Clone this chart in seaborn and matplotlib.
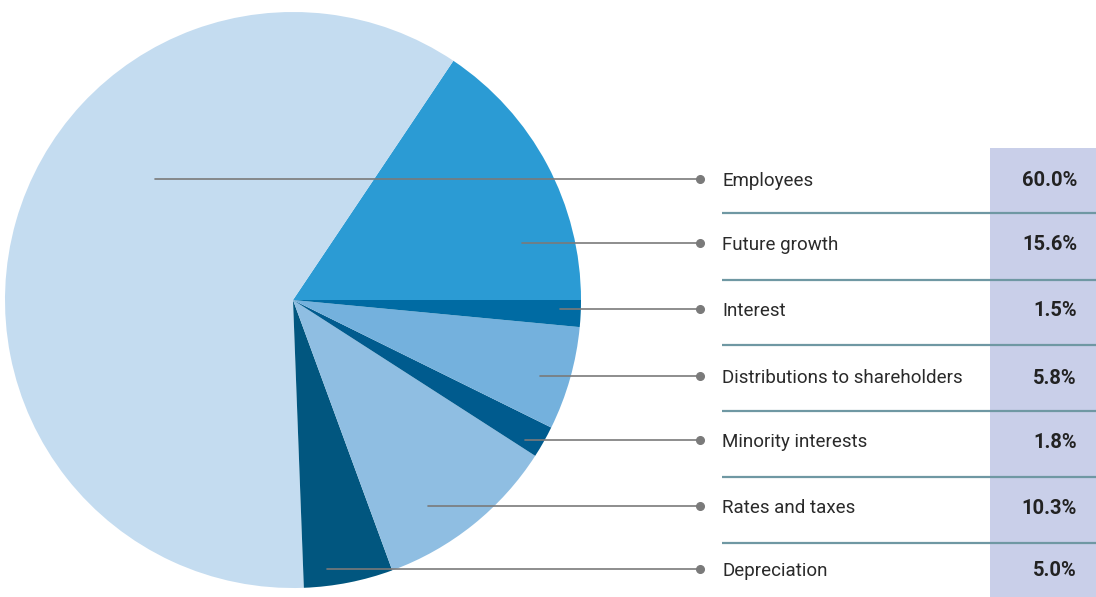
import matplotlib
matplotlib.use("Agg")
import matplotlib.pyplot as plt
from matplotlib import font_manager
from matplotlib.patches import Rectangle
import seaborn as sns

# Value distribution (percent of total)
categories = ["Employees", "Future growth", "Interest", "Distributions to shareholders",
              "Minority interests", "Rates and taxes", "Depreciation"]
shares = [60.0, 15.6, 1.5, 5.8, 1.8, 10.3, 5.0]
value_labels = ["60.0%", "15.6%", "1.5%", "5.8%", "1.8%", "10.3%", "5.0%"]

slice_colors = ["#c4dcf0", "#2b9bd4", "#006ba3", "#74b1dd", "#005b8e", "#8fbee2", "#01567f"]
# wedges are laid out counter-clockwise from 3 o'clock in this order
pie_order = [1, 0, 6, 5, 4, 3, 2]

sns.set_theme(style="white")

names = {f.name for f in font_manager.fontManager.ttflist}
base_font = "Liberation Sans Narrow" if "Liberation Sans Narrow" in names else "Roboto"
plt.rcParams["font.family"] = [base_font, "DejaVu Sans"]

W, H = 1096, 597
fig = plt.figure(figsize=(W / 100, H / 100), dpi=100)
ax = fig.add_axes([0, 0, 1, 1])

def py(y):
    # screen-style y (top = 0) to axis y
    return H - y

cx, cy, r = 293, py(300), 288
ax.pie([shares[i] for i in pie_order],
       colors=[slice_colors[i] for i in pie_order],
       startangle=0, counterclock=True,
       center=(cx, cy), radius=r,
       wedgeprops=dict(linewidth=0))

# table column background
ax.add_patch(Rectangle((990, 0), W - 990, py(148), facecolor="#c9cfe9",
                       edgecolor="none", zorder=1))

row_y = [181, 245, 311, 378, 442, 508, 571]
leader_start = [155, 522, 560, 540, 525, 428, 327]
sep_y = [213, 280, 345, 411, 477, 543]

label_size = 13.5 if base_font == "Roboto" else 14.5

for y in sep_y:
    ax.plot([722, W], [py(y), py(y)], color="#6f98a3", lw=1.6, zorder=2,
            solid_capstyle="butt")

for cat, lab, y, x0 in zip(categories, value_labels, row_y, leader_start):
    ax.plot([x0, 700], [py(y - 2), py(y - 2)], color="#7a7a7a", lw=1.2, zorder=3)
    ax.plot([700], [py(y - 2)], "o", color="#7a7a7a", ms=5.5, zorder=4)
    ax.text(722, py(y), cat, ha="left", va="center", fontsize=label_size,
            color="#2a2a2a", zorder=5)
    ax.text(1077, py(y), lab, ha="right", va="center", fontsize=14.5,
            fontweight="bold", color="#222222", zorder=5)

ax.set_xlim(0, W)
ax.set_ylim(0, H)
ax.set_aspect("equal", adjustable="box")
ax.axis("off")

fig.savefig("out.png", dpi=100, facecolor="white")
